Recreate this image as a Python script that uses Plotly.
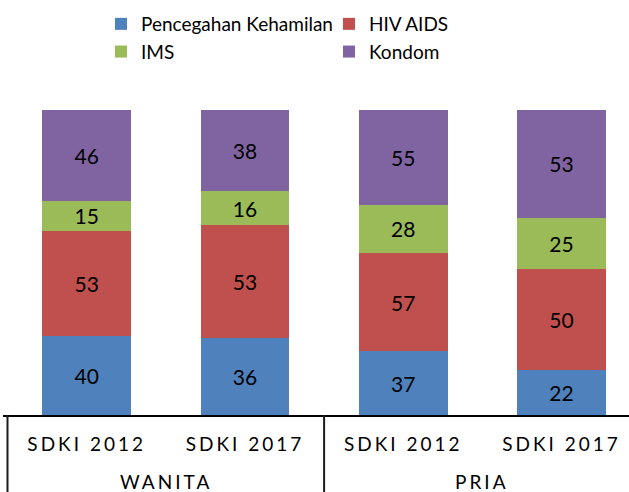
import plotly.graph_objects as go

groups = ["WANITA", "WANITA", "PRIA", "PRIA"]
surveys = ["SDKI 2012", "SDKI 2017", "SDKI 2012", "SDKI 2017"]

series_names = ["Pencegahan Kehamilan", "HIV AIDS", "IMS", "Kondom"]
pencegahan = [40, 36, 37, 22]
hiv_aids = [53, 53, 57, 50]
ims = [15, 16, 28, 25]
kondom = [46, 38, 55, 53]
colors = ["#4F81BD", "#C0504D", "#9BBB59", "#8064A2"]

FONT = "Lato"
SP = '<span style="letter-spacing:3px">{}</span>'

idx = list(range(len(surveys)))

fig = go.Figure()
for name, vals, col in zip(series_names, [pencegahan, hiv_aids, ims, kondom], colors):
    fig.add_trace(go.Bar(
        x=idx,
        y=vals,
        name=name,
        marker=dict(color=col, line=dict(width=0)),
        text=vals,
        texttemplate="%{text}",
        textposition="inside",
        insidetextanchor="middle",
        textangle=0,
        constraintext="none",
        textfont=dict(family=FONT, size=21, color="black"),
        hoverinfo="skip",
    ))

W, H = 629, 492
L, R, T, B = 3, 0, 110, 77
unit = 158.3
x0 = -0.5 - 4.5 / unit
plot_w = W - L - R

# group boundaries and centres derived from the group list
bounds = [-0.5]
centres = []
start = 0
for i in range(1, len(groups) + 1):
    if i == len(groups) or groups[i] != groups[i - 1]:
        centres.append(((start + i - 1) / 2.0, groups[start]))
        bounds.append(i - 0.5)
        start = i

shapes = [dict(type="line", xref="x", yref="paper", x0=b, x1=b, y0=0, y1=-0.3,
               line=dict(color="#1a1a1a", width=2), layer="above")
          for b in bounds]
annotations = [dict(x=c, xref="x", y=0, yref="paper", yanchor="middle",
                    yshift=-66.5, showarrow=False, text=SP.format(g),
                    font=dict(family=FONT, size=19, color="black"))
               for c, g in centres]

fig.update_layout(
    width=W, height=H,
    margin=dict(l=L, r=R, t=T, b=B, autoexpand=False),
    barmode="stack",
    barnorm="percent",
    bargap=0.44,
    plot_bgcolor="white",
    paper_bgcolor="white",
    font=dict(family=FONT, color="black"),
    showlegend=True,
    legend=dict(
        orientation="h",
        x=101 / W, xref="container", xanchor="left",
        y=1 - 5 / H, yref="container", yanchor="top",
        font=dict(family=FONT, size=19, color="black"),
        entrywidth=183, entrywidthmode="pixels",
        traceorder="normal",
        itemclick=False, itemdoubleclick=False,
        bgcolor="rgba(0,0,0,0)",
    ),
    xaxis=dict(
        range=[x0, x0 + plot_w / unit],
        tickmode="array", tickvals=idx, ticktext=[SP.format(s) for s in surveys],
        showline=True, linecolor="black", linewidth=2,
        ticks="", showgrid=False, zeroline=False,
        tickfont=dict(family=FONT, size=19, color="black"),
        ticklabelstandoff=11,
        fixedrange=True,
    ),
    yaxis=dict(visible=False, range=[0, 100], fixedrange=True),
    shapes=shapes,
    annotations=annotations,
)

fig.write_html("out.html", config={"displayModeBar": False},
               post_script="document.body.style.margin='0';")
